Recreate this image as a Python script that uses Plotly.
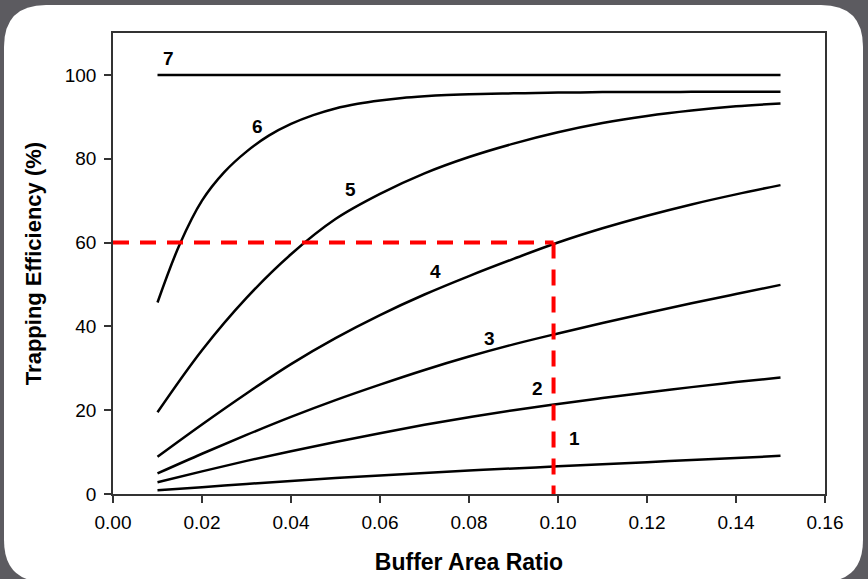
import plotly.graph_objects as go

# ---- data ----
ratio = [0.01, 0.02, 0.03, 0.04, 0.05, 0.06, 0.07, 0.08, 0.09, 0.10,
         0.11, 0.12, 0.13, 0.14, 0.15]
curve1 = [0.9, 1.6, 2.4, 3.1, 3.8, 4.4, 5.0, 5.6, 6.1, 6.6, 7.1, 7.6, 8.1, 8.6, 9.1]
curve2 = [2.8, 5.4, 7.9, 10.2, 12.4, 14.5, 16.5, 18.3, 20.0, 21.5, 22.9, 24.2, 25.5, 26.7, 27.8]
curve3 = [4.9, 9.6, 14.1, 18.4, 22.4, 26.1, 29.6, 32.8, 35.7, 38.3, 40.8, 43.2, 45.5, 47.7, 49.9]
curve4 = [8.9, 16.6, 24.0, 31.0, 37.2, 42.7, 47.6, 52.0, 56.1, 60.0, 63.4, 66.4, 69.1, 71.5, 73.7]
curve5 = [19.5, 34.3, 46.8, 57.2, 65.6, 71.6, 76.5, 80.4, 83.6, 86.3, 88.5, 90.2, 91.5, 92.5, 93.2]
curve7 = [100, 100, 100, 100, 100, 100, 100, 100, 100, 100, 100, 100, 100, 100, 100]

# curve 6 rises steeply, so it was read at a finer spacing
ratio6 = [0.010, 0.015, 0.020, 0.025, 0.030, 0.035, 0.040, 0.045, 0.050, 0.055,
          0.060, 0.065, 0.070, 0.075, 0.080, 0.085, 0.090, 0.095, 0.100, 0.105,
          0.110, 0.115, 0.120, 0.125, 0.130, 0.135, 0.140, 0.145, 0.150]
curve6 = [45.7, 59.6, 70.0, 76.8, 81.7, 85.5, 88.3, 90.4, 92.0, 93.1,
          93.9, 94.5, 94.9, 95.2, 95.4, 95.5, 95.6, 95.7, 95.8, 95.8,
          95.9, 95.9, 95.9, 95.9, 96.0, 96.0, 96.0, 96.0, 96.0]

series = [(ratio, curve1), (ratio, curve2), (ratio, curve3), (ratio, curve4),
          (ratio, curve5), (ratio6, curve6), (ratio, curve7)]

label_text = ["1", "2", "3", "4", "5", "6", "7"]
label_x = [0.1038, 0.0955, 0.0847, 0.0724, 0.0533, 0.0324, 0.0124]
label_y = [13.2, 25.2, 37.2, 53.0, 72.6, 87.8, 104.0]

ref_x = 0.099      # example buffer area ratio
ref_y = 60         # example trapping efficiency

x_ticks = [0.00, 0.02, 0.04, 0.06, 0.08, 0.10, 0.12, 0.14, 0.16]
y_ticks = [0, 20, 40, 60, 80, 100]

FONT = "Arial, Liberation Sans, sans-serif"

fig = go.Figure()
for xs, ys in series:
    fig.add_trace(go.Scatter(x=xs, y=ys, mode="lines",
                             line=dict(color="black", width=2.5, shape="spline", smoothing=1.0),
                             showlegend=False, hoverinfo="skip"))

fig.add_trace(go.Scatter(x=[0, ref_x], y=[ref_y, ref_y], mode="lines",
                         line=dict(color="#ff0000", width=4, dash="16px,11px"),
                         showlegend=False, cliponaxis=False))
fig.add_trace(go.Scatter(x=[ref_x, ref_x], y=[ref_y, -0.6], mode="lines",
                         line=dict(color="#ff0000", width=4, dash="16px,11px"),
                         showlegend=False, cliponaxis=False))

for t, lx, ly in zip(label_text, label_x, label_y):
    fig.add_annotation(x=lx, y=ly, text="<b>%s</b>" % t, showarrow=False,
                       font=dict(family=FONT, size=19, color="black"))

# white rounded card on dark background (paper coords of plot area)
L, R, T, B = 113, 825, 33, 494
W, H = R - L, B - T
def px(xp):
    return (xp - L) / W
def py(yp):
    return (B - yp) / H
x0, x1, y0, y1, r = 4, 863, 5, 582, 42
path = (f"M {px(x0 + r)},{py(y0)} L {px(x1 - r)},{py(y0)} "
        f"Q {px(x1)},{py(y0)} {px(x1)},{py(y0 + r)} "
        f"L {px(x1)},{py(y1 - r)} Q {px(x1)},{py(y1)} {px(x1 - r)},{py(y1)} "
        f"L {px(x0 + r)},{py(y1)} Q {px(x0)},{py(y1)} {px(x0)},{py(y1 - r)} "
        f"L {px(x0)},{py(y0 + r)} Q {px(x0)},{py(y0)} {px(x0 + r)},{py(y0)} Z")
fig.add_shape(type="path", path=path, xref="paper", yref="paper",
              fillcolor="white", line=dict(width=0), layer="below")

fig.update_layout(
    width=868, height=579,
    margin=dict(l=L, r=868 - R, t=T, b=579 - B),
    paper_bgcolor="#5c5b60",
    plot_bgcolor="white",
    font=dict(family=FONT, color="black"),
    showlegend=False,
)
fig.update_xaxes(range=[0, 0.16], tickvals=x_ticks, tickformat=".2f",
                 showgrid=False, zeroline=False, automargin=False,
                 showline=True, linecolor="#333333", linewidth=1.5, mirror=True,
                 ticks="outside", ticklen=7, tickcolor="#333333", tickwidth=1.5,
                 ticklabelstandoff=3,
                 tickfont=dict(size=19, family=FONT, color="black"),
                 title=dict(text="<b>Buffer Area Ratio</b>", font=dict(size=23, family=FONT, color="black"),
                            standoff=22))
fig.update_yaxes(range=[0, 110], tickvals=y_ticks,
                 showgrid=False, zeroline=False, automargin=False,
                 showline=True, linecolor="#333333", linewidth=1.5, mirror=True,
                 ticks="outside", ticklen=7, tickcolor="#333333", tickwidth=1.5,
                 ticklabelstandoff=4,
                 tickfont=dict(size=19, family=FONT, color="black"),
                 title=dict(text="<b>Trapping Efficiency (%)</b>", font=dict(size=22, family=FONT, color="black"),
                            standoff=17))

fig.write_html("out.html", config={"displayModeBar": False},
               post_script="document.body.style.margin='0';document.body.style.background='#5c5b60';")
